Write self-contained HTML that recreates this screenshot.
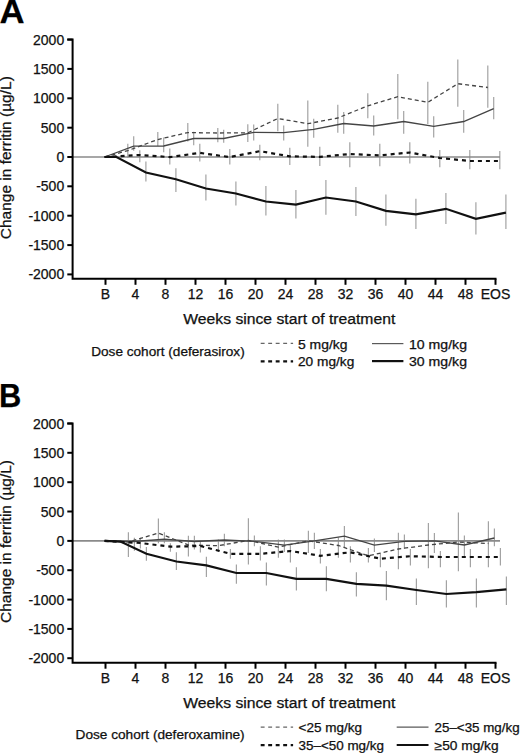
<!DOCTYPE html>
<html><head><meta charset="utf-8"><style>
html,body{margin:0;padding:0;background:#fff;width:520px;height:753px;overflow:hidden;font-family:"Liberation Sans",sans-serif;}
svg{display:block;}
</style></head><body>
<svg width="520" height="753" viewBox="0 0 520 753">
<rect width="520" height="753" fill="#fff"/>
<text x="-0.4" y="22.6" font-family="Liberation Sans, sans-serif" stroke="#111" stroke-width="0.25" font-size="32.5" font-weight="bold" fill="#000" textLength="25.1" lengthAdjust="spacingAndGlyphs">A</text>
<text transform="translate(10.6,157.7) rotate(-90)" x="0" y="0" text-anchor="middle" font-family="Liberation Sans, sans-serif" stroke="#111" stroke-width="0.25" font-size="14" fill="#111" textLength="163" lengthAdjust="spacingAndGlyphs">Change in ferritin (µg/L)</text>
<line x1="127.8" y1="143.8" x2="127.8" y2="157.7" stroke="#a3a3a3" stroke-width="1.2"/>
<line x1="157.8" y1="132.0" x2="157.8" y2="146.0" stroke="#a3a3a3" stroke-width="1.2"/>
<line x1="187.8" y1="123.0" x2="187.8" y2="141.5" stroke="#a3a3a3" stroke-width="1.2"/>
<line x1="217.8" y1="127.9" x2="217.8" y2="142.3" stroke="#a3a3a3" stroke-width="1.2"/>
<line x1="247.8" y1="124.2" x2="247.8" y2="141.9" stroke="#a3a3a3" stroke-width="1.2"/>
<line x1="277.8" y1="103.8" x2="277.8" y2="131.3" stroke="#a3a3a3" stroke-width="1.2"/>
<line x1="307.8" y1="100.6" x2="307.8" y2="146.7" stroke="#a3a3a3" stroke-width="1.2"/>
<line x1="337.8" y1="104.8" x2="337.8" y2="132.7" stroke="#a3a3a3" stroke-width="1.2"/>
<line x1="367.8" y1="93.3" x2="367.8" y2="118.3" stroke="#a3a3a3" stroke-width="1.2"/>
<line x1="397.8" y1="74.0" x2="397.8" y2="119.2" stroke="#a3a3a3" stroke-width="1.2"/>
<line x1="427.8" y1="81.7" x2="427.8" y2="124.0" stroke="#a3a3a3" stroke-width="1.2"/>
<line x1="457.8" y1="59.6" x2="457.8" y2="106.7" stroke="#a3a3a3" stroke-width="1.2"/>
<line x1="487.8" y1="65.4" x2="487.8" y2="107.7" stroke="#a3a3a3" stroke-width="1.2"/>
<line x1="133.7" y1="136.3" x2="133.7" y2="150.8" stroke="#a3a3a3" stroke-width="1.2"/>
<line x1="163.7" y1="137.5" x2="163.7" y2="152.3" stroke="#a3a3a3" stroke-width="1.2"/>
<line x1="193.7" y1="131.7" x2="193.7" y2="145.2" stroke="#a3a3a3" stroke-width="1.2"/>
<line x1="223.7" y1="129.8" x2="223.7" y2="142.7" stroke="#a3a3a3" stroke-width="1.2"/>
<line x1="253.7" y1="124.6" x2="253.7" y2="140.4" stroke="#a3a3a3" stroke-width="1.2"/>
<line x1="283.7" y1="125.6" x2="283.7" y2="140.4" stroke="#a3a3a3" stroke-width="1.2"/>
<line x1="313.7" y1="118.8" x2="313.7" y2="137.7" stroke="#a3a3a3" stroke-width="1.2"/>
<line x1="343.7" y1="112.0" x2="343.7" y2="133.7" stroke="#a3a3a3" stroke-width="1.2"/>
<line x1="373.7" y1="115.4" x2="373.7" y2="135.6" stroke="#a3a3a3" stroke-width="1.2"/>
<line x1="403.7" y1="111.0" x2="403.7" y2="133.7" stroke="#a3a3a3" stroke-width="1.2"/>
<line x1="433.7" y1="116.3" x2="433.7" y2="137.5" stroke="#a3a3a3" stroke-width="1.2"/>
<line x1="463.7" y1="110.0" x2="463.7" y2="132.7" stroke="#a3a3a3" stroke-width="1.2"/>
<line x1="493.7" y1="97.1" x2="493.7" y2="119.2" stroke="#a3a3a3" stroke-width="1.2"/>
<line x1="139.8" y1="150.2" x2="139.8" y2="162.3" stroke="#a3a3a3" stroke-width="1.2"/>
<line x1="169.8" y1="148.5" x2="169.8" y2="164.6" stroke="#a3a3a3" stroke-width="1.2"/>
<line x1="199.8" y1="143.8" x2="199.8" y2="161.5" stroke="#a3a3a3" stroke-width="1.2"/>
<line x1="229.8" y1="149.0" x2="229.8" y2="164.4" stroke="#a3a3a3" stroke-width="1.2"/>
<line x1="259.8" y1="144.8" x2="259.8" y2="160.2" stroke="#a3a3a3" stroke-width="1.2"/>
<line x1="289.8" y1="147.7" x2="289.8" y2="165.0" stroke="#a3a3a3" stroke-width="1.2"/>
<line x1="319.8" y1="146.7" x2="319.8" y2="166.0" stroke="#a3a3a3" stroke-width="1.2"/>
<line x1="349.8" y1="142.3" x2="349.8" y2="167.3" stroke="#a3a3a3" stroke-width="1.2"/>
<line x1="379.8" y1="143.8" x2="379.8" y2="166.3" stroke="#a3a3a3" stroke-width="1.2"/>
<line x1="409.8" y1="142.3" x2="409.8" y2="163.5" stroke="#a3a3a3" stroke-width="1.2"/>
<line x1="439.8" y1="150.0" x2="439.8" y2="167.3" stroke="#a3a3a3" stroke-width="1.2"/>
<line x1="469.8" y1="150.0" x2="469.8" y2="169.2" stroke="#a3a3a3" stroke-width="1.2"/>
<line x1="499.8" y1="151.0" x2="499.8" y2="169.2" stroke="#a3a3a3" stroke-width="1.2"/>
<line x1="145.9" y1="161.5" x2="145.9" y2="181.5" stroke="#a3a3a3" stroke-width="1.2"/>
<line x1="175.9" y1="168.3" x2="175.9" y2="192.0" stroke="#a3a3a3" stroke-width="1.2"/>
<line x1="205.9" y1="174.5" x2="205.9" y2="200.6" stroke="#a3a3a3" stroke-width="1.2"/>
<line x1="235.9" y1="181.5" x2="235.9" y2="205.5" stroke="#a3a3a3" stroke-width="1.2"/>
<line x1="265.9" y1="186.0" x2="265.9" y2="215.4" stroke="#a3a3a3" stroke-width="1.2"/>
<line x1="295.9" y1="190.0" x2="295.9" y2="218.5" stroke="#a3a3a3" stroke-width="1.2"/>
<line x1="325.9" y1="180.0" x2="325.9" y2="214.8" stroke="#a3a3a3" stroke-width="1.2"/>
<line x1="355.9" y1="187.0" x2="355.9" y2="216.0" stroke="#a3a3a3" stroke-width="1.2"/>
<line x1="385.9" y1="194.6" x2="385.9" y2="225.8" stroke="#a3a3a3" stroke-width="1.2"/>
<line x1="415.9" y1="198.8" x2="415.9" y2="229.0" stroke="#a3a3a3" stroke-width="1.2"/>
<line x1="445.9" y1="192.9" x2="445.9" y2="224.0" stroke="#a3a3a3" stroke-width="1.2"/>
<line x1="475.9" y1="202.2" x2="475.9" y2="234.4" stroke="#a3a3a3" stroke-width="1.2"/>
<line x1="505.9" y1="194.6" x2="505.9" y2="229.0" stroke="#a3a3a3" stroke-width="1.2"/>
<line x1="72" y1="157.0" x2="500" y2="157.0" stroke="#8a8a8a" stroke-width="1.6"/>
<path d="M67.3 39.6 H72.6 V278.8 H496.5" fill="none" stroke="#000" stroke-width="2"/>
<line x1="67.3" y1="274.4" x2="72.6" y2="274.4" stroke="#000" stroke-width="2"/>
<text x="64.2" y="279.4" text-anchor="end" font-family="Liberation Sans, sans-serif" stroke="#111" stroke-width="0.25" font-size="14" fill="#111">-2000</text>
<line x1="67.3" y1="245.1" x2="72.6" y2="245.1" stroke="#000" stroke-width="2"/>
<text x="64.2" y="250.1" text-anchor="end" font-family="Liberation Sans, sans-serif" stroke="#111" stroke-width="0.25" font-size="14" fill="#111">-1500</text>
<line x1="67.3" y1="215.7" x2="72.6" y2="215.7" stroke="#000" stroke-width="2"/>
<text x="64.2" y="220.7" text-anchor="end" font-family="Liberation Sans, sans-serif" stroke="#111" stroke-width="0.25" font-size="14" fill="#111">-1000</text>
<line x1="67.3" y1="186.3" x2="72.6" y2="186.3" stroke="#000" stroke-width="2"/>
<text x="64.2" y="191.3" text-anchor="end" font-family="Liberation Sans, sans-serif" stroke="#111" stroke-width="0.25" font-size="14" fill="#111">-500</text>
<line x1="67.3" y1="157.0" x2="72.6" y2="157.0" stroke="#000" stroke-width="2"/>
<text x="64.2" y="162.0" text-anchor="end" font-family="Liberation Sans, sans-serif" stroke="#111" stroke-width="0.25" font-size="14" fill="#111">0</text>
<line x1="67.3" y1="127.7" x2="72.6" y2="127.7" stroke="#000" stroke-width="2"/>
<text x="64.2" y="132.7" text-anchor="end" font-family="Liberation Sans, sans-serif" stroke="#111" stroke-width="0.25" font-size="14" fill="#111">500</text>
<line x1="67.3" y1="98.3" x2="72.6" y2="98.3" stroke="#000" stroke-width="2"/>
<text x="64.2" y="103.3" text-anchor="end" font-family="Liberation Sans, sans-serif" stroke="#111" stroke-width="0.25" font-size="14" fill="#111">1000</text>
<line x1="67.3" y1="68.9" x2="72.6" y2="68.9" stroke="#000" stroke-width="2"/>
<text x="64.2" y="73.9" text-anchor="end" font-family="Liberation Sans, sans-serif" stroke="#111" stroke-width="0.25" font-size="14" fill="#111">1500</text>
<line x1="67.3" y1="39.6" x2="72.6" y2="39.6" stroke="#000" stroke-width="2"/>
<text x="64.2" y="44.6" text-anchor="end" font-family="Liberation Sans, sans-serif" stroke="#111" stroke-width="0.25" font-size="14" fill="#111">2000</text>
<line x1="105.5" y1="278.8" x2="105.5" y2="284.8" stroke="#000" stroke-width="2"/>
<text x="105.5" y="298.9" text-anchor="middle" font-family="Liberation Sans, sans-serif" stroke="#111" stroke-width="0.25" font-size="14" fill="#111">B</text>
<line x1="135.5" y1="278.8" x2="135.5" y2="284.8" stroke="#000" stroke-width="2"/>
<text x="135.5" y="298.9" text-anchor="middle" font-family="Liberation Sans, sans-serif" stroke="#111" stroke-width="0.25" font-size="14" fill="#111">4</text>
<line x1="165.5" y1="278.8" x2="165.5" y2="284.8" stroke="#000" stroke-width="2"/>
<text x="165.5" y="298.9" text-anchor="middle" font-family="Liberation Sans, sans-serif" stroke="#111" stroke-width="0.25" font-size="14" fill="#111">8</text>
<line x1="195.5" y1="278.8" x2="195.5" y2="284.8" stroke="#000" stroke-width="2"/>
<text x="195.5" y="298.9" text-anchor="middle" font-family="Liberation Sans, sans-serif" stroke="#111" stroke-width="0.25" font-size="14" fill="#111">12</text>
<line x1="225.5" y1="278.8" x2="225.5" y2="284.8" stroke="#000" stroke-width="2"/>
<text x="225.5" y="298.9" text-anchor="middle" font-family="Liberation Sans, sans-serif" stroke="#111" stroke-width="0.25" font-size="14" fill="#111">16</text>
<line x1="255.5" y1="278.8" x2="255.5" y2="284.8" stroke="#000" stroke-width="2"/>
<text x="255.5" y="298.9" text-anchor="middle" font-family="Liberation Sans, sans-serif" stroke="#111" stroke-width="0.25" font-size="14" fill="#111">20</text>
<line x1="285.5" y1="278.8" x2="285.5" y2="284.8" stroke="#000" stroke-width="2"/>
<text x="285.5" y="298.9" text-anchor="middle" font-family="Liberation Sans, sans-serif" stroke="#111" stroke-width="0.25" font-size="14" fill="#111">24</text>
<line x1="315.5" y1="278.8" x2="315.5" y2="284.8" stroke="#000" stroke-width="2"/>
<text x="315.5" y="298.9" text-anchor="middle" font-family="Liberation Sans, sans-serif" stroke="#111" stroke-width="0.25" font-size="14" fill="#111">28</text>
<line x1="345.5" y1="278.8" x2="345.5" y2="284.8" stroke="#000" stroke-width="2"/>
<text x="345.5" y="298.9" text-anchor="middle" font-family="Liberation Sans, sans-serif" stroke="#111" stroke-width="0.25" font-size="14" fill="#111">32</text>
<line x1="375.5" y1="278.8" x2="375.5" y2="284.8" stroke="#000" stroke-width="2"/>
<text x="375.5" y="298.9" text-anchor="middle" font-family="Liberation Sans, sans-serif" stroke="#111" stroke-width="0.25" font-size="14" fill="#111">36</text>
<line x1="405.5" y1="278.8" x2="405.5" y2="284.8" stroke="#000" stroke-width="2"/>
<text x="405.5" y="298.9" text-anchor="middle" font-family="Liberation Sans, sans-serif" stroke="#111" stroke-width="0.25" font-size="14" fill="#111">40</text>
<line x1="435.5" y1="278.8" x2="435.5" y2="284.8" stroke="#000" stroke-width="2"/>
<text x="435.5" y="298.9" text-anchor="middle" font-family="Liberation Sans, sans-serif" stroke="#111" stroke-width="0.25" font-size="14" fill="#111">44</text>
<line x1="465.5" y1="278.8" x2="465.5" y2="284.8" stroke="#000" stroke-width="2"/>
<text x="465.5" y="298.9" text-anchor="middle" font-family="Liberation Sans, sans-serif" stroke="#111" stroke-width="0.25" font-size="14" fill="#111">48</text>
<line x1="495.5" y1="278.8" x2="495.5" y2="284.8" stroke="#000" stroke-width="2"/>
<text x="495.5" y="298.9" text-anchor="middle" font-family="Liberation Sans, sans-serif" stroke="#111" stroke-width="0.25" font-size="14" fill="#111">EOS</text>
<path d="M104.6 157.0 L127.8 150.6 L157.8 139.5 L187.8 132.6 L217.8 133.0 L247.8 132.8 L277.8 118.5 L307.8 123.7 L337.8 118.0 L367.8 105.8 L397.8 96.7 L427.8 102.3 L457.8 83.7 L487.8 87.5" fill="none" stroke="#444" stroke-width="1.3" stroke-dasharray="4 3"/>
<path d="M104.6 157.0 L133.7 146.2 L163.7 146.0 L193.7 138.5 L223.7 138.5 L253.7 132.3 L283.7 132.7 L313.7 129.4 L343.7 123.5 L373.7 126.0 L403.7 121.5 L433.7 126.3 L463.7 121.5 L493.7 108.7" fill="none" stroke="#444" stroke-width="1.3"/>
<path d="M104.6 157.0 L139.8 155.0 L169.8 157.1 L199.8 152.9 L229.8 157.1 L259.8 151.2 L289.8 156.3 L319.8 156.9 L349.8 154.0 L379.8 155.4 L409.8 152.5 L439.8 158.0 L469.8 161.0 L499.8 161.0" fill="none" stroke="#111" stroke-width="2.2" stroke-dasharray="4 4"/>
<path d="M104.6 157.0 L116.5 157.0 L145.9 172.5 L175.9 179.2 L205.9 188.5 L235.9 193.5 L265.9 201.5 L295.9 204.6 L325.9 197.5 L355.9 201.5 L385.9 210.9 L415.9 214.3 L445.9 208.8 L475.9 218.8 L505.9 212.6" fill="none" stroke="#111" stroke-width="2.2"/>

<text x="183.3" y="324.2" font-family="Liberation Sans, sans-serif" stroke="#111" stroke-width="0.25" font-size="14" fill="#111" textLength="212" lengthAdjust="spacingAndGlyphs">Weeks since start of treatment</text>
<text x="91.2" y="355.6" font-family="Liberation Sans, sans-serif" stroke="#111" stroke-width="0.25" font-size="12" fill="#111" textLength="153.5" lengthAdjust="spacingAndGlyphs">Dose cohort (deferasirox)</text>
<line x1="260.7" y1="343.4" x2="293.1" y2="343.4" fill="none" stroke="#666" stroke-width="1.2" stroke-dasharray="3.9 3.6"/>
<line x1="260.7" y1="361.3" x2="293.1" y2="361.3" fill="none" stroke="#111" stroke-width="2.3" stroke-dasharray="3.9 3.6"/>
<line x1="372" y1="343.6" x2="403.4" y2="343.6" fill="none" stroke="#5a5a5a" stroke-width="1.2"/>
<line x1="372" y1="361.1" x2="403.4" y2="361.1" fill="none" stroke="#111" stroke-width="2.2"/>
<text x="298" y="348.8" font-family="Liberation Sans, sans-serif" stroke="#111" stroke-width="0.25" font-size="12" fill="#111" textLength="49.5" lengthAdjust="spacingAndGlyphs">5 mg/kg</text>
<text x="298" y="366.2" font-family="Liberation Sans, sans-serif" stroke="#111" stroke-width="0.25" font-size="12" fill="#111" textLength="56.3" lengthAdjust="spacingAndGlyphs">20 mg/kg</text>
<text x="409" y="348.8" font-family="Liberation Sans, sans-serif" stroke="#111" stroke-width="0.25" font-size="12" fill="#111" textLength="58" lengthAdjust="spacingAndGlyphs">10 mg/kg</text>
<text x="409" y="366.2" font-family="Liberation Sans, sans-serif" stroke="#111" stroke-width="0.25" font-size="12" fill="#111" textLength="58" lengthAdjust="spacingAndGlyphs">30 mg/kg</text>
<text x="-0.9" y="407.1" font-family="Liberation Sans, sans-serif" stroke="#111" stroke-width="0.25" font-size="32.5" font-weight="bold" fill="#000" textLength="22.3" lengthAdjust="spacingAndGlyphs">B</text>
<text transform="translate(10.6,541.5) rotate(-90)" x="0" y="0" text-anchor="middle" font-family="Liberation Sans, sans-serif" stroke="#111" stroke-width="0.25" font-size="14" fill="#111" textLength="163" lengthAdjust="spacingAndGlyphs">Change in ferritin (µg/L)</text>
<line x1="128.4" y1="532.3" x2="128.4" y2="557.0" stroke="#a3a3a3" stroke-width="1.2"/>
<line x1="158.4" y1="518.5" x2="158.4" y2="543.3" stroke="#a3a3a3" stroke-width="1.2"/>
<line x1="188.4" y1="535.8" x2="188.4" y2="556.5" stroke="#a3a3a3" stroke-width="1.2"/>
<line x1="218.4" y1="539.4" x2="218.4" y2="552.0" stroke="#a3a3a3" stroke-width="1.2"/>
<line x1="248.4" y1="518.3" x2="248.4" y2="564.4" stroke="#a3a3a3" stroke-width="1.2"/>
<line x1="278.4" y1="539.4" x2="278.4" y2="557.7" stroke="#a3a3a3" stroke-width="1.2"/>
<line x1="308.4" y1="530.8" x2="308.4" y2="552.9" stroke="#a3a3a3" stroke-width="1.2"/>
<line x1="338.4" y1="537.5" x2="338.4" y2="557.7" stroke="#a3a3a3" stroke-width="1.2"/>
<line x1="368.4" y1="548.0" x2="368.4" y2="562.5" stroke="#a3a3a3" stroke-width="1.2"/>
<line x1="398.4" y1="532.7" x2="398.4" y2="569.2" stroke="#a3a3a3" stroke-width="1.2"/>
<line x1="428.4" y1="523.0" x2="428.4" y2="568.3" stroke="#a3a3a3" stroke-width="1.2"/>
<line x1="458.4" y1="512.5" x2="458.4" y2="571.2" stroke="#a3a3a3" stroke-width="1.2"/>
<line x1="488.4" y1="521.2" x2="488.4" y2="567.3" stroke="#a3a3a3" stroke-width="1.2"/>
<line x1="134.4" y1="537.7" x2="134.4" y2="550.8" stroke="#a3a3a3" stroke-width="1.2"/>
<line x1="164.4" y1="532.3" x2="164.4" y2="543.3" stroke="#a3a3a3" stroke-width="1.2"/>
<line x1="194.4" y1="535.8" x2="194.4" y2="549.6" stroke="#a3a3a3" stroke-width="1.2"/>
<line x1="224.4" y1="533.7" x2="224.4" y2="546.2" stroke="#a3a3a3" stroke-width="1.2"/>
<line x1="254.4" y1="535.6" x2="254.4" y2="546.2" stroke="#a3a3a3" stroke-width="1.2"/>
<line x1="284.4" y1="539.4" x2="284.4" y2="552.0" stroke="#a3a3a3" stroke-width="1.2"/>
<line x1="314.4" y1="532.7" x2="314.4" y2="549.0" stroke="#a3a3a3" stroke-width="1.2"/>
<line x1="344.4" y1="526.0" x2="344.4" y2="547.1" stroke="#a3a3a3" stroke-width="1.2"/>
<line x1="374.4" y1="538.5" x2="374.4" y2="552.0" stroke="#a3a3a3" stroke-width="1.2"/>
<line x1="404.4" y1="534.6" x2="404.4" y2="549.0" stroke="#a3a3a3" stroke-width="1.2"/>
<line x1="434.4" y1="533.0" x2="434.4" y2="552.9" stroke="#a3a3a3" stroke-width="1.2"/>
<line x1="464.4" y1="535.6" x2="464.4" y2="557.7" stroke="#a3a3a3" stroke-width="1.2"/>
<line x1="494.4" y1="528.5" x2="494.4" y2="546.2" stroke="#a3a3a3" stroke-width="1.2"/>
<line x1="140.4" y1="537.7" x2="140.4" y2="548.5" stroke="#a3a3a3" stroke-width="1.2"/>
<line x1="170.4" y1="543.3" x2="170.4" y2="551.7" stroke="#a3a3a3" stroke-width="1.2"/>
<line x1="200.4" y1="542.1" x2="200.4" y2="552.5" stroke="#a3a3a3" stroke-width="1.2"/>
<line x1="230.4" y1="549.0" x2="230.4" y2="558.7" stroke="#a3a3a3" stroke-width="1.2"/>
<line x1="260.4" y1="546.2" x2="260.4" y2="560.6" stroke="#a3a3a3" stroke-width="1.2"/>
<line x1="290.4" y1="545.2" x2="290.4" y2="562.5" stroke="#a3a3a3" stroke-width="1.2"/>
<line x1="320.4" y1="549.0" x2="320.4" y2="563.5" stroke="#a3a3a3" stroke-width="1.2"/>
<line x1="350.4" y1="546.2" x2="350.4" y2="562.5" stroke="#a3a3a3" stroke-width="1.2"/>
<line x1="380.4" y1="553.8" x2="380.4" y2="567.3" stroke="#a3a3a3" stroke-width="1.2"/>
<line x1="410.4" y1="549.0" x2="410.4" y2="565.4" stroke="#a3a3a3" stroke-width="1.2"/>
<line x1="440.4" y1="551.0" x2="440.4" y2="567.3" stroke="#a3a3a3" stroke-width="1.2"/>
<line x1="470.4" y1="549.0" x2="470.4" y2="567.3" stroke="#a3a3a3" stroke-width="1.2"/>
<line x1="500.4" y1="548.0" x2="500.4" y2="565.4" stroke="#a3a3a3" stroke-width="1.2"/>
<line x1="146.4" y1="547.0" x2="146.4" y2="560.8" stroke="#a3a3a3" stroke-width="1.2"/>
<line x1="176.4" y1="552.3" x2="176.4" y2="570.0" stroke="#a3a3a3" stroke-width="1.2"/>
<line x1="206.4" y1="556.7" x2="206.4" y2="576.9" stroke="#a3a3a3" stroke-width="1.2"/>
<line x1="236.4" y1="564.4" x2="236.4" y2="583.7" stroke="#a3a3a3" stroke-width="1.2"/>
<line x1="266.4" y1="562.5" x2="266.4" y2="585.6" stroke="#a3a3a3" stroke-width="1.2"/>
<line x1="296.4" y1="567.3" x2="296.4" y2="590.4" stroke="#a3a3a3" stroke-width="1.2"/>
<line x1="326.4" y1="566.3" x2="326.4" y2="591.3" stroke="#a3a3a3" stroke-width="1.2"/>
<line x1="356.4" y1="572.2" x2="356.4" y2="596.6" stroke="#a3a3a3" stroke-width="1.2"/>
<line x1="386.4" y1="571.0" x2="386.4" y2="600.3" stroke="#a3a3a3" stroke-width="1.2"/>
<line x1="416.4" y1="578.4" x2="416.4" y2="605.0" stroke="#a3a3a3" stroke-width="1.2"/>
<line x1="446.4" y1="580.2" x2="446.4" y2="607.6" stroke="#a3a3a3" stroke-width="1.2"/>
<line x1="476.4" y1="578.4" x2="476.4" y2="607.6" stroke="#a3a3a3" stroke-width="1.2"/>
<line x1="506.4" y1="576.5" x2="506.4" y2="605.0" stroke="#a3a3a3" stroke-width="1.2"/>
<line x1="72" y1="540.9" x2="500" y2="540.9" stroke="#8a8a8a" stroke-width="1.6"/>
<path d="M67.3 423.5 H72.6 V662.7 H496.5" fill="none" stroke="#000" stroke-width="2"/>
<line x1="67.3" y1="658.2" x2="72.6" y2="658.2" stroke="#000" stroke-width="2"/>
<text x="64.2" y="663.2" text-anchor="end" font-family="Liberation Sans, sans-serif" stroke="#111" stroke-width="0.25" font-size="14" fill="#111">-2000</text>
<line x1="67.3" y1="628.9" x2="72.6" y2="628.9" stroke="#000" stroke-width="2"/>
<text x="64.2" y="633.9" text-anchor="end" font-family="Liberation Sans, sans-serif" stroke="#111" stroke-width="0.25" font-size="14" fill="#111">-1500</text>
<line x1="67.3" y1="599.6" x2="72.6" y2="599.6" stroke="#000" stroke-width="2"/>
<text x="64.2" y="604.6" text-anchor="end" font-family="Liberation Sans, sans-serif" stroke="#111" stroke-width="0.25" font-size="14" fill="#111">-1000</text>
<line x1="67.3" y1="570.2" x2="72.6" y2="570.2" stroke="#000" stroke-width="2"/>
<text x="64.2" y="575.2" text-anchor="end" font-family="Liberation Sans, sans-serif" stroke="#111" stroke-width="0.25" font-size="14" fill="#111">-500</text>
<line x1="67.3" y1="540.9" x2="72.6" y2="540.9" stroke="#000" stroke-width="2"/>
<text x="64.2" y="545.9" text-anchor="end" font-family="Liberation Sans, sans-serif" stroke="#111" stroke-width="0.25" font-size="14" fill="#111">0</text>
<line x1="67.3" y1="511.5" x2="72.6" y2="511.5" stroke="#000" stroke-width="2"/>
<text x="64.2" y="516.5" text-anchor="end" font-family="Liberation Sans, sans-serif" stroke="#111" stroke-width="0.25" font-size="14" fill="#111">500</text>
<line x1="67.3" y1="482.2" x2="72.6" y2="482.2" stroke="#000" stroke-width="2"/>
<text x="64.2" y="487.2" text-anchor="end" font-family="Liberation Sans, sans-serif" stroke="#111" stroke-width="0.25" font-size="14" fill="#111">1000</text>
<line x1="67.3" y1="452.8" x2="72.6" y2="452.8" stroke="#000" stroke-width="2"/>
<text x="64.2" y="457.8" text-anchor="end" font-family="Liberation Sans, sans-serif" stroke="#111" stroke-width="0.25" font-size="14" fill="#111">1500</text>
<line x1="67.3" y1="423.5" x2="72.6" y2="423.5" stroke="#000" stroke-width="2"/>
<text x="64.2" y="428.5" text-anchor="end" font-family="Liberation Sans, sans-serif" stroke="#111" stroke-width="0.25" font-size="14" fill="#111">2000</text>
<line x1="105.5" y1="662.7" x2="105.5" y2="668.7" stroke="#000" stroke-width="2"/>
<text x="105.5" y="682.8" text-anchor="middle" font-family="Liberation Sans, sans-serif" stroke="#111" stroke-width="0.25" font-size="14" fill="#111">B</text>
<line x1="135.5" y1="662.7" x2="135.5" y2="668.7" stroke="#000" stroke-width="2"/>
<text x="135.5" y="682.8" text-anchor="middle" font-family="Liberation Sans, sans-serif" stroke="#111" stroke-width="0.25" font-size="14" fill="#111">4</text>
<line x1="165.5" y1="662.7" x2="165.5" y2="668.7" stroke="#000" stroke-width="2"/>
<text x="165.5" y="682.8" text-anchor="middle" font-family="Liberation Sans, sans-serif" stroke="#111" stroke-width="0.25" font-size="14" fill="#111">8</text>
<line x1="195.5" y1="662.7" x2="195.5" y2="668.7" stroke="#000" stroke-width="2"/>
<text x="195.5" y="682.8" text-anchor="middle" font-family="Liberation Sans, sans-serif" stroke="#111" stroke-width="0.25" font-size="14" fill="#111">12</text>
<line x1="225.5" y1="662.7" x2="225.5" y2="668.7" stroke="#000" stroke-width="2"/>
<text x="225.5" y="682.8" text-anchor="middle" font-family="Liberation Sans, sans-serif" stroke="#111" stroke-width="0.25" font-size="14" fill="#111">16</text>
<line x1="255.5" y1="662.7" x2="255.5" y2="668.7" stroke="#000" stroke-width="2"/>
<text x="255.5" y="682.8" text-anchor="middle" font-family="Liberation Sans, sans-serif" stroke="#111" stroke-width="0.25" font-size="14" fill="#111">20</text>
<line x1="285.5" y1="662.7" x2="285.5" y2="668.7" stroke="#000" stroke-width="2"/>
<text x="285.5" y="682.8" text-anchor="middle" font-family="Liberation Sans, sans-serif" stroke="#111" stroke-width="0.25" font-size="14" fill="#111">24</text>
<line x1="315.5" y1="662.7" x2="315.5" y2="668.7" stroke="#000" stroke-width="2"/>
<text x="315.5" y="682.8" text-anchor="middle" font-family="Liberation Sans, sans-serif" stroke="#111" stroke-width="0.25" font-size="14" fill="#111">28</text>
<line x1="345.5" y1="662.7" x2="345.5" y2="668.7" stroke="#000" stroke-width="2"/>
<text x="345.5" y="682.8" text-anchor="middle" font-family="Liberation Sans, sans-serif" stroke="#111" stroke-width="0.25" font-size="14" fill="#111">32</text>
<line x1="375.5" y1="662.7" x2="375.5" y2="668.7" stroke="#000" stroke-width="2"/>
<text x="375.5" y="682.8" text-anchor="middle" font-family="Liberation Sans, sans-serif" stroke="#111" stroke-width="0.25" font-size="14" fill="#111">36</text>
<line x1="405.5" y1="662.7" x2="405.5" y2="668.7" stroke="#000" stroke-width="2"/>
<text x="405.5" y="682.8" text-anchor="middle" font-family="Liberation Sans, sans-serif" stroke="#111" stroke-width="0.25" font-size="14" fill="#111">40</text>
<line x1="435.5" y1="662.7" x2="435.5" y2="668.7" stroke="#000" stroke-width="2"/>
<text x="435.5" y="682.8" text-anchor="middle" font-family="Liberation Sans, sans-serif" stroke="#111" stroke-width="0.25" font-size="14" fill="#111">44</text>
<line x1="465.5" y1="662.7" x2="465.5" y2="668.7" stroke="#000" stroke-width="2"/>
<text x="465.5" y="682.8" text-anchor="middle" font-family="Liberation Sans, sans-serif" stroke="#111" stroke-width="0.25" font-size="14" fill="#111">48</text>
<line x1="495.5" y1="662.7" x2="495.5" y2="668.7" stroke="#000" stroke-width="2"/>
<text x="495.5" y="682.8" text-anchor="middle" font-family="Liberation Sans, sans-serif" stroke="#111" stroke-width="0.25" font-size="14" fill="#111">EOS</text>
<path d="M104.6 540.9 L128.4 542.0 L158.4 533.0 L188.4 545.0 L218.4 545.7 L248.4 540.4 L278.4 547.1 L308.4 540.8 L338.4 545.5 L368.4 555.8 L398.4 549.0 L428.4 545.0 L458.4 542.0 L488.4 543.5" fill="none" stroke="#444" stroke-width="1.3" stroke-dasharray="4 3"/>
<path d="M104.6 540.9 L134.4 541.5 L164.4 539.2 L194.4 541.5 L224.4 540.0 L254.4 541.3 L284.4 545.2 L314.4 540.8 L344.4 536.2 L374.4 545.2 L404.4 541.3 L434.4 540.8 L464.4 545.0 L494.4 538.0" fill="none" stroke="#444" stroke-width="1.3"/>
<path d="M104.6 540.9 L140.4 543.0 L170.4 546.7 L200.4 546.0 L230.4 553.8 L260.4 553.8 L290.4 551.0 L320.4 555.8 L350.4 552.3 L380.4 558.7 L410.4 556.2 L440.4 557.0 L470.4 557.0 L500.4 557.0" fill="none" stroke="#111" stroke-width="2.2" stroke-dasharray="4 4"/>
<path d="M104.6 540.9 L120.5 541.6 L146.4 553.8 L176.4 561.5 L206.4 565.4 L236.4 573.0 L266.4 573.0 L296.4 578.8 L326.4 578.8 L356.4 583.8 L386.4 585.7 L416.4 590.0 L446.4 594.0 L476.4 592.2 L506.4 589.3" fill="none" stroke="#111" stroke-width="2.2"/>

<text x="183.3" y="708.0" font-family="Liberation Sans, sans-serif" stroke="#111" stroke-width="0.25" font-size="14" fill="#111" textLength="212" lengthAdjust="spacingAndGlyphs">Weeks since start of treatment</text>
<text x="75.6" y="739.2" font-family="Liberation Sans, sans-serif" stroke="#111" stroke-width="0.25" font-size="12" fill="#111" textLength="169" lengthAdjust="spacingAndGlyphs">Dose cohort (deferoxamine)</text>
<line x1="260.7" y1="727.2" x2="293.1" y2="727.2" fill="none" stroke="#666" stroke-width="1.2" stroke-dasharray="3.9 3.6"/>
<line x1="260.7" y1="745.2" x2="293.1" y2="745.2" fill="none" stroke="#111" stroke-width="2.3" stroke-dasharray="3.9 3.6"/>
<line x1="396.7" y1="727.2" x2="428.5" y2="727.2" fill="none" stroke="#5a5a5a" stroke-width="1.2"/>
<line x1="396.7" y1="745.0" x2="428.5" y2="745.0" fill="none" stroke="#111" stroke-width="2.2"/>
<text x="298.5" y="732.2" font-family="Liberation Sans, sans-serif" stroke="#111" stroke-width="0.25" font-size="12" fill="#111" textLength="63.5" lengthAdjust="spacingAndGlyphs">&lt;25 mg/kg</text>
<text x="298.5" y="750.3" font-family="Liberation Sans, sans-serif" stroke="#111" stroke-width="0.25" font-size="12" fill="#111" textLength="85.5" lengthAdjust="spacingAndGlyphs">35–&lt;50 mg/kg</text>
<text x="434.6" y="732.2" font-family="Liberation Sans, sans-serif" stroke="#111" stroke-width="0.25" font-size="12" fill="#111" textLength="85" lengthAdjust="spacingAndGlyphs">25–&lt;35 mg/kg</text>
<text x="434.6" y="750.3" font-family="Liberation Sans, sans-serif" stroke="#111" stroke-width="0.25" font-size="12" fill="#111" textLength="64" lengthAdjust="spacingAndGlyphs">≥50 mg/kg</text>
</svg>
</body></html>
